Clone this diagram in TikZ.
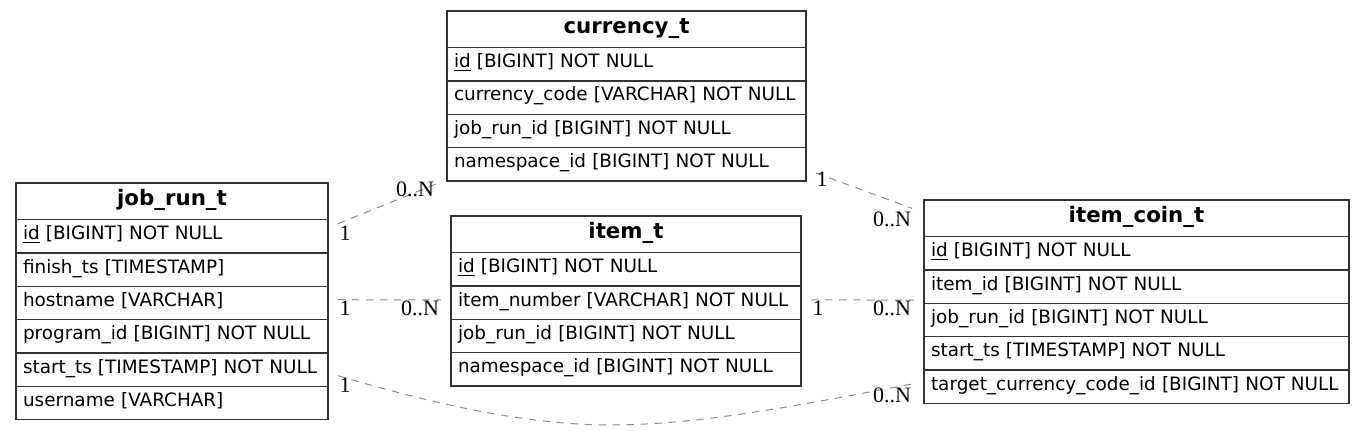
\documentclass[tikz,border=0pt]{standalone}
\usepackage{fontspec}
\setmainfont{DejaVu Sans}
\newfontfamily\labfont{Liberation Serif}
\usetikzlibrary{calc}
\tikzset{
  tbl/.style={draw=black!80, line width=0.9pt, rectangle, inner xsep=5.25pt, inner ysep=0pt, outer sep=0pt, anchor=north west},
  hdr/.style={tbl, minimum height=27.5pt, font=\fontsize{16}{18}\selectfont\bfseries, align=center, text height=11pt, text depth=5pt},
  rowb/.style={tbl, minimum height=25pt, font=\fontsize{13.8}{16}\selectfont, text height=10pt, text depth=5pt, align=left},
  rel/.style={draw=black!45, dash pattern=on 5.5pt off 5pt, line width=0.75pt},
  card/.style={font=\labfont\fontsize{16.5}{18}\selectfont, inner sep=0pt, anchor=base},
}
\begin{document}
\begin{tikzpicture}[x=0.75pt, y=-0.75pt]
\fill[white] (0,0) rectangle (1364,431);
\useasboundingbox (0,0) rectangle (1364,431);

% job_run_t
\node[hdr, text width=223.5pt] (jr0) at (16,183) {job\_run\_t};
\node[rowb, text width=223.5pt] (jr1) at (jr0.south west) {\underline{id} [BIGINT] NOT NULL};
\node[rowb, text width=223.5pt] (jr2) at (jr1.south west) {finish\_ts [TIMESTAMP]};
\node[rowb, text width=223.5pt] (jr3) at (jr2.south west) {hostname [VARCHAR]};
\node[rowb, text width=223.5pt] (jr4) at (jr3.south west) {program\_id [BIGINT] NOT NULL};
\node[rowb, text width=223.5pt] (jr5) at (jr4.south west) {start\_ts [TIMESTAMP] NOT NULL};
\node[rowb, text width=223.5pt] (jr6) at (jr5.south west) {username [VARCHAR]};

% currency_t
\node[hdr, text width=258.75pt] (cu0) at (447,11) {currency\_t};
\node[rowb, text width=258.75pt] (cu1) at (cu0.south west) {\underline{id} [BIGINT] NOT NULL};
\node[rowb, text width=258.75pt] (cu2) at (cu1.south west) {currency\_code [VARCHAR] NOT NULL};
\node[rowb, text width=258.75pt] (cu3) at (cu2.south west) {job\_run\_id [BIGINT] NOT NULL};
\node[rowb, text width=258.75pt] (cu4) at (cu3.south west) {namespace\_id [BIGINT] NOT NULL};

% item_t
\node[hdr, text width=252pt] (it0) at (451,216) {item\_t};
\node[rowb, text width=252pt] (it1) at (it0.south west) {\underline{id} [BIGINT] NOT NULL};
\node[rowb, text width=252pt] (it2) at (it1.south west) {item\_number [VARCHAR] NOT NULL};
\node[rowb, text width=252pt] (it3) at (it2.south west) {job\_run\_id [BIGINT] NOT NULL};
\node[rowb, text width=252pt] (it4) at (it3.south west) {namespace\_id [BIGINT] NOT NULL};

% item_coin_t
\node[hdr, text width=308.25pt] (ic0) at (924,200) {item\_coin\_t};
\node[rowb, text width=308.25pt] (ic1) at (ic0.south west) {\underline{id} [BIGINT] NOT NULL};
\node[rowb, text width=308.25pt] (ic2) at (ic1.south west) {item\_id [BIGINT] NOT NULL};
\node[rowb, text width=308.25pt] (ic3) at (ic2.south west) {job\_run\_id [BIGINT] NOT NULL};
\node[rowb, text width=308.25pt] (ic4) at (ic3.south west) {start\_ts [TIMESTAMP] NOT NULL};
\node[rowb, text width=308.25pt] (ic5) at (ic4.south west) {target\_currency\_code\_id [BIGINT] NOT NULL};

% connector end points
\coordinate (e1s) at ($(jr1.north east)+(10,4)$);
\coordinate (e1t) at ($(cu4.south west)+(-11,3)$);
\coordinate (e2s) at ($(jr3.east)+(10,-3.3)$);
\coordinate (e2t) at ($(it2.west)+(-10,-2.7)$);
\coordinate (e3s) at ($(jr5.east)+(10,6)$);
\coordinate (e3t) at ($(ic5.west)+(-12,-2.7)$);
\coordinate (e4s) at ($(cu4.east)+(10,8.7)$);
\coordinate (e4t) at ($(ic0.west)+(-12,-10)$);
\coordinate (e5s) at ($(it2.east)+(10,-2.7)$);
\coordinate (e5t) at ($(ic2.south west)+(-10,-3.3)$);

\draw[rel] (e1s) -- (e1t);
\draw[rel] (e2s) -- (e2t);
\draw[rel] (e3s) .. controls (420,400) and (520,425) .. (610,425)
                 .. controls (700,425) and (800,405) .. (e3t);
\draw[rel] (e4s) -- (e4t);
\draw[rel] (e5s) -- (e5t);

% cardinalities
\node[card] (l1a) at (345,240) {1};
\node[card] (l1b) at (415,196.7) {0..N};
\node[card] (l2a) at (345,315) {1};
\node[card] (l2b) at (420,315) {0..N};
\node[card] (l3a) at (345,392) {1};
\node[card] (l3b) at (892,402) {0..N};
\node[card] (l4a) at (822,187) {1};
\node[card] (l4b) at (892,226.7) {0..N};
\node[card] (l5a) at (818,315) {1};
\node[card] (l5b) at (892,315) {0..N};
\end{tikzpicture}
\end{document}
